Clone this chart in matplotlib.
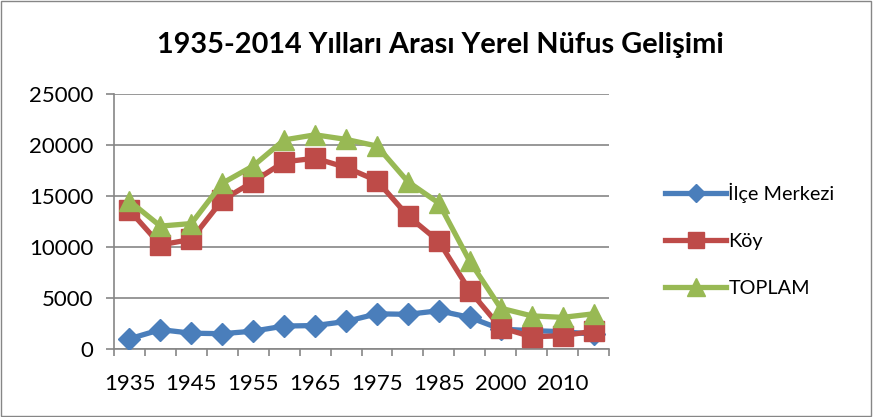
import matplotlib
matplotlib.use("Agg")
import matplotlib.pyplot as plt
import numpy as np

plt.rcParams['font.family'] = ['Lato', 'DejaVu Sans']

# data
years = ["1935", "1940", "1945", "1950", "1955", "1960", "1965", "1970",
         "1975", "1980", "1985", "1990", "2000", "2007", "2010", "2014"]
ilce = [1000, 1900, 1550, 1500, 1750, 2250, 2300, 2700,
        3450, 3400, 3750, 3100, 1950, 1800, 1700, 1450]
koy = [13600, 10200, 10750, 14600, 16400, 18350, 18700, 17800,
       16500, 13050, 10550, 5700, 2100, 1200, 1300, 1750]
toplam = [14500, 12050, 12300, 16250, 17950, 20500, 21000, 20550,
          19900, 16400, 14300, 8600, 4000, 3250, 3100, 3450]

blue = "#4A7EBB"
red = "#BE4B48"
green = "#98B954"
grid = "#868686"

fig = plt.figure(figsize=(8.73, 4.17), dpi=100)
ax = fig.add_axes([114 / 873, 1 - 349 / 417, (609 - 114) / 873, (349 - 94) / 417])

x = np.arange(len(years))
ax.plot(x, ilce, color=blue, lw=3.8, marker="D", ms=11, label="İlçe Merkezi", zorder=3)
ax.plot(x, koy, color=red, lw=3.8, marker="s", ms=14, label="Köy", zorder=4)
ax.plot(x, toplam, color=green, lw=3.8, marker="^", ms=15, label="TOPLAM", zorder=5)

ax.set_xlim(-0.5, len(years) - 0.5)
ax.set_ylim(0, 25000)
ax.set_yticks(range(0, 25001, 5000))
ax.yaxis.grid(True, color=grid, lw=1.2)
ax.set_axisbelow(True)

ax.set_xticks(x[::2])
ax.set_xticklabels(years[::2], fontsize=16)
ax.set_xticks(np.arange(-0.5, len(years)), minor=True)
ax.tick_params(axis="x", which="major", length=0, pad=18)
ax.tick_params(axis="x", which="minor", length=5, color=grid, width=1.2)
ax.tick_params(axis="y", length=6, color=grid, width=1.2, labelsize=16, pad=9)

for s in ["top", "right"]:
    ax.spines[s].set_visible(False)
for s in ["left", "bottom"]:
    ax.spines[s].set_color(grid)
    ax.spines[s].set_linewidth(1.2)

fig.text(440 / 873, 1 - 45 / 417, "1935-2014 Yılları Arası Yerel Nüfus Gelişimi",
         ha="center", va="center", fontsize=20.8, fontweight="bold")

ax.legend(loc="center left", bbox_to_anchor=(647 / 873, 1 - 240 / 417),
          bbox_transform=fig.transFigure, frameon=False, fontsize=14.3,
          markerscale=0.85, handlelength=3.1, handletextpad=0.1, labelspacing=1.5)

fig.patches.append(plt.Rectangle((0.001, 0.002), 0.997, 0.995, transform=fig.transFigure,
                                 fill=False, edgecolor="#868686", lw=1))

fig.savefig("out.png", dpi=100)
